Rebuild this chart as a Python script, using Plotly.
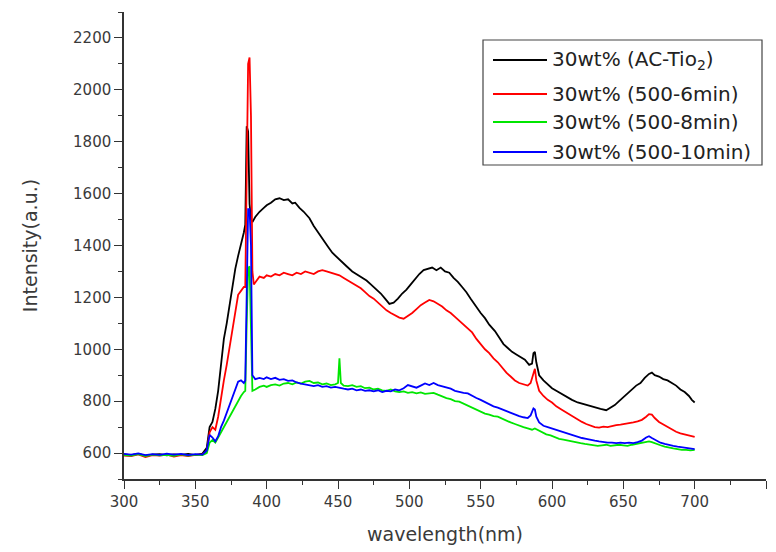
import plotly.graph_objects as go

# ---------------- data ----------------
black_wl = [300,305,310,315,320,325,330,335,340,345,350,355,358,360,362,364,366,368,370,372,374,376,378,380,382,384,385,386,387,388,389,390,392,395,398,400,403,406,409,412,415,418,420,423,426,430,433,436,440,443,446,450,453,456,460,463,466,470,473,476,480,483,486,489,492,495,498,501,504,507,510,513,516,519,522,525,528,531,534,537,540,543,546,550,553,556,560,563,566,569,572,575,578,581,584,586,587,588,589,591,594,597,600,603,606,610,614,618,622,626,630,634,638,641,644,647,650,653,656,659,662,665,668,670,672,675,678,681,684,687,690,693,696,698,700]
black_I = [595,592,597,590,594,596,591,595,593,597,592,598,620,700,720,770,840,950,1040,1100,1170,1240,1310,1360,1400,1450,1480,1860,1840,1560,1500,1490,1510,1530,1545,1555,1565,1578,1582,1575,1578,1562,1565,1545,1530,1505,1475,1450,1420,1395,1372,1350,1335,1320,1300,1290,1280,1265,1250,1235,1215,1195,1175,1180,1195,1215,1230,1250,1270,1290,1305,1310,1315,1305,1315,1300,1295,1275,1260,1240,1220,1195,1170,1140,1120,1095,1070,1045,1020,1005,990,980,970,960,940,945,985,990,950,900,880,865,850,840,830,818,805,795,788,782,775,770,765,775,785,800,815,830,845,860,870,890,905,910,900,895,885,880,870,860,845,835,820,805,795]

red_wl = [300,305,310,315,320,325,330,335,340,345,350,355,358,360,362,364,366,368,370,372,374,376,378,380,382,384,385,386,387,388,389,390,391,393,395,398,400,403,406,409,412,415,418,421,424,427,430,433,436,439,442,445,448,451,454,457,460,463,466,469,472,475,478,481,484,487,490,493,496,499,502,505,508,511,514,517,520,523,526,529,532,535,538,541,544,547,550,553,556,559,562,565,568,571,574,577,580,583,585,587,588,589,591,594,597,600,603,606,609,612,615,618,621,624,627,630,633,636,639,642,645,648,651,654,657,660,663,666,668,670,672,675,678,681,684,687,690,693,696,698,700]
red_I = [590,588,595,585,592,590,594,586,592,588,593,595,605,680,700,690,740,820,880,940,1010,1080,1150,1210,1225,1240,1240,1700,2100,2125,1900,1300,1250,1265,1280,1275,1285,1280,1290,1285,1295,1290,1285,1295,1290,1300,1295,1290,1300,1305,1300,1295,1290,1285,1275,1265,1255,1245,1235,1220,1205,1195,1180,1165,1150,1140,1130,1122,1118,1128,1140,1155,1170,1180,1190,1185,1175,1165,1150,1140,1125,1110,1095,1080,1065,1040,1020,1000,985,965,950,930,910,895,880,870,865,860,870,910,925,880,840,820,805,795,780,770,760,748,738,728,720,712,705,700,698,702,700,705,708,710,712,715,718,722,728,740,750,748,735,720,710,700,690,682,676,672,668,665,662]

green_wl = [300,305,310,315,320,325,330,335,340,345,350,355,358,360,362,364,366,368,370,372,374,376,378,380,382,384,385,386,387,388,389,390,392,395,398,400,403,406,409,412,415,418,421,424,427,430,433,436,439,442,445,448,450,451,452,454,457,460,463,466,469,472,475,478,481,484,487,490,493,496,499,502,505,508,511,514,517,520,523,526,529,532,535,538,541,544,547,550,553,556,559,562,565,568,571,574,577,580,583,586,588,590,593,596,599,602,605,608,611,614,617,620,623,626,629,632,635,638,641,644,647,650,653,656,659,662,665,668,670,673,676,679,682,685,688,691,694,697,700]
green_I = [592,590,596,588,594,591,593,589,595,590,594,592,600,640,650,640,660,680,700,720,745,765,785,800,820,835,840,1100,1310,1320,1100,840,845,855,860,855,862,865,860,868,870,865,872,868,875,878,870,872,865,868,862,865,870,965,870,860,858,862,855,858,850,852,845,848,842,840,845,838,835,838,832,835,830,834,828,830,832,825,818,812,808,800,798,790,785,776,768,760,752,748,742,740,732,725,718,712,705,700,695,690,695,690,680,672,668,660,655,652,648,645,640,638,635,632,630,628,630,632,628,630,632,630,628,632,635,638,640,645,642,635,630,625,620,618,615,612,612,610,612]

blue_wl = [300,305,310,315,320,325,330,335,340,345,350,355,358,360,362,364,366,368,370,372,374,376,378,380,382,384,385,386,387,388,389,390,392,395,398,400,403,406,409,412,415,418,421,424,427,430,433,436,439,442,445,448,451,454,457,460,463,466,469,472,475,478,481,484,487,490,493,496,499,502,505,508,511,514,517,520,523,526,529,532,535,538,541,544,547,550,553,556,559,562,565,568,571,574,577,580,583,585,587,588,589,591,594,597,600,603,606,609,612,615,618,621,624,627,630,633,636,639,642,645,648,651,654,657,660,663,666,668,670,673,676,679,682,685,688,691,694,697,700]
blue_I = [597,594,599,592,596,593,598,594,597,592,596,594,610,670,660,645,665,700,725,755,780,810,845,875,880,870,880,1300,1540,1540,1400,900,885,890,885,892,885,890,882,885,878,880,872,868,865,862,858,862,855,858,852,855,850,848,845,848,842,845,840,842,838,842,835,840,838,845,842,850,862,858,852,860,868,862,870,862,858,852,848,840,835,832,830,820,812,805,796,788,780,775,768,760,754,748,742,738,735,745,772,768,740,718,705,700,695,690,682,678,672,668,662,658,655,650,648,645,642,640,640,638,640,638,640,638,642,648,660,665,658,648,640,635,630,628,625,622,620,618,615]

series_names = ["30wt% (AC-Tio<sub>2</sub>)", "30wt% (500-6min)", "30wt% (500-8min)", "30wt% (500-10min)"]
series_colors = ["#000000", "#ff0000", "#00e600", "#0000ff"]

x_ticks = [300, 350, 400, 450, 500, 550, 600, 650, 700, 750]
y_ticks = [600, 800, 1000, 1200, 1400, 1600, 1800, 2000, 2200]

# ---------------- figure ----------------
fig = go.Figure()
all_data = [(black_wl, black_I), (red_wl, red_I), (green_wl, green_I), (blue_wl, blue_I)]
for (wl, inten), name, col in zip(all_data, series_names, series_colors):
    fig.add_trace(go.Scatter(x=wl, y=inten, mode="lines", name=name,
                             line=dict(color=col, width=1.8), showlegend=False))

W, H = 776, 552
L, R, T, B = 124, 10, 12, 73
pw, ph = W - L - R, H - T - B

def px(x):
    return (x - L) / pw

def py(y):
    return (H - B - y) / ph

FONT = "DejaVu Sans, Verdana, sans-serif"
axis_font = dict(family=FONT, size=15, color="#3a3a3a")
title_font = dict(family=FONT, size=19, color="#3a3a3a")

fig.update_layout(
    width=W, height=H,
    margin=dict(l=L, r=R, t=T, b=B),
    paper_bgcolor="white", plot_bgcolor="white",
    xaxis=dict(range=[300, 750], tickvals=x_ticks, ticks="outside", ticklen=8, tickwidth=1.2,
               tickcolor="#333333", showline=True, linecolor="#333333", linewidth=1.5,
               showgrid=False, zeroline=False, tickfont=axis_font,
               minor=dict(dtick=25, tick0=300, ticks="outside", ticklen=4, tickcolor="#333333", showgrid=False),
               title=dict(text="wavelength(nm)", font=title_font, standoff=18)),
    yaxis=dict(range=[500, 2300], tickvals=y_ticks, ticks="outside", ticklen=8, tickwidth=1.2,
               tickcolor="#333333", showline=True, linecolor="#333333", linewidth=1.5,
               showgrid=False, zeroline=False, tickfont=axis_font,
               minor=dict(dtick=100, tick0=500, ticks="outside", ticklen=4, tickcolor="#333333", showgrid=False),
               title=dict(text="Intensity(a.u.)", font=title_font, standoff=30)),
)

# ---------------- manual legend ----------------
fig.add_shape(type="rect", xref="paper", yref="paper",
              x0=px(483), x1=px(762), y0=py(165), y1=py(40),
              line=dict(color="#444444", width=1.2), fillcolor="white", layer="above")
legend_y = [60, 94, 122, 152]
for name, col, ly in zip(series_names, series_colors, legend_y):
    fig.add_shape(type="line", xref="paper", yref="paper",
                  x0=px(493), x1=px(547), y0=py(ly), y1=py(ly),
                  line=dict(color=col, width=2), layer="above")
    fig.add_annotation(xref="paper", yref="paper", x=px(550), y=py(ly),
                       text=name, showarrow=False, xanchor="left", yanchor="middle",
                       font=dict(family=FONT, size=20, color="#222222"))

fig.write_html("out.html")
